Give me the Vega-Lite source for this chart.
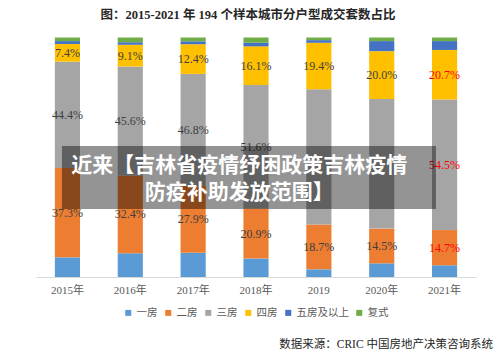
{
  "$schema": "https://vega.github.io/schema/vega-lite/v6.json",
  "width": 440,
  "height": 239.5,
  "autosize": "none",
  "padding": {"left": 36, "top": 37.5, "right": 24, "bottom": 78},
  "background": "white",
  "title": {
    "text": "图：2015-2021 年 194 个样本城市分户型成交套数占比",
    "font": "'Liberation Serif', 'Noto Sans CJK SC'",
    "fontSize": 12.5,
    "fontWeight": "bold",
    "color": "#262626",
    "anchor": "middle",
    "dx": -8,
    "offset": 16
  },
  "config": {
    "view": {"stroke": null},
    "legend": {"layout": {"bottom": {"anchor": "middle"}}}
  },
  "data": {
    "values": [
      {"year": "2015年", "type": "一房", "k": 1, "v": 8.2},
      {"year": "2015年", "type": "二房", "k": 2, "v": 37.3},
      {"year": "2015年", "type": "三房", "k": 3, "v": 44.4},
      {"year": "2015年", "type": "四房", "k": 4, "v": 7.4},
      {"year": "2015年", "type": "五房及以上", "k": 5, "v": 1.2},
      {"year": "2015年", "type": "复式", "k": 6, "v": 1.5},
      {"year": "2016年", "type": "一房", "k": 1, "v": 9.9},
      {"year": "2016年", "type": "二房", "k": 2, "v": 32.4},
      {"year": "2016年", "type": "三房", "k": 3, "v": 45.6},
      {"year": "2016年", "type": "四房", "k": 4, "v": 9.1},
      {"year": "2016年", "type": "五房及以上", "k": 5, "v": 1.0},
      {"year": "2016年", "type": "复式", "k": 6, "v": 2.0},
      {"year": "2017年", "type": "一房", "k": 1, "v": 10.1},
      {"year": "2017年", "type": "二房", "k": 2, "v": 27.9},
      {"year": "2017年", "type": "三房", "k": 3, "v": 46.8},
      {"year": "2017年", "type": "四房", "k": 4, "v": 12.4},
      {"year": "2017年", "type": "五房及以上", "k": 5, "v": 1.2},
      {"year": "2017年", "type": "复式", "k": 6, "v": 1.6},
      {"year": "2018年", "type": "一房", "k": 1, "v": 7.7},
      {"year": "2018年", "type": "二房", "k": 2, "v": 20.9},
      {"year": "2018年", "type": "三房", "k": 3, "v": 51.6},
      {"year": "2018年", "type": "四房", "k": 4, "v": 16.1},
      {"year": "2018年", "type": "五房及以上", "k": 5, "v": 1.5},
      {"year": "2018年", "type": "复式", "k": 6, "v": 2.2},
      {"year": "2019", "type": "一房", "k": 1, "v": 3.2},
      {"year": "2019", "type": "二房", "k": 2, "v": 18.7},
      {"year": "2019", "type": "三房", "k": 3, "v": 56.5},
      {"year": "2019", "type": "四房", "k": 4, "v": 19.4},
      {"year": "2019", "type": "五房及以上", "k": 5, "v": 1.1},
      {"year": "2019", "type": "复式", "k": 6, "v": 1.1},
      {"year": "2020年", "type": "一房", "k": 1, "v": 5.7},
      {"year": "2020年", "type": "二房", "k": 2, "v": 14.5},
      {"year": "2020年", "type": "三房", "k": 3, "v": 54.1},
      {"year": "2020年", "type": "四房", "k": 4, "v": 20.0},
      {"year": "2020年", "type": "五房及以上", "k": 5, "v": 4.2},
      {"year": "2020年", "type": "复式", "k": 6, "v": 1.5},
      {"year": "2021年", "type": "一房", "k": 1, "v": 4.9},
      {"year": "2021年", "type": "二房", "k": 2, "v": 14.7},
      {"year": "2021年", "type": "三房", "k": 3, "v": 54.5},
      {"year": "2021年", "type": "四房", "k": 4, "v": 20.7},
      {"year": "2021年", "type": "五房及以上", "k": 5, "v": 3.7},
      {"year": "2021年", "type": "复式", "k": 6, "v": 1.5}
    ]
  },
  "layer": [
    {
      "transform": [
        {"stack": "v", "groupby": ["year"], "sort": [{"field": "k", "order": "ascending"}], "as": ["v0", "v1"]}
      ],
      "mark": {"type": "bar"},
      "encoding": {
        "x": {
          "field": "year",
          "type": "nominal",
          "sort": null,
          "scale": {"paddingInner": 0.6, "paddingOuter": 0.3},
          "axis": {
            "title": null,
            "labelAngle": 0,
            "labelFont": "'Liberation Serif', 'Noto Sans CJK SC'",
            "labelFontSize": 11,
            "labelColor": "#595959",
            "labelPadding": 7,
            "ticks": false,
            "domainColor": "#D9D9D9",
            "domainWidth": 1.2
          }
        },
        "y": {
          "field": "v0",
          "type": "quantitative",
          "scale": {"domain": [0, 100], "nice": false},
          "axis": {
            "title": null,
            "values": [0, 10, 20, 30, 40, 50, 60, 70, 80, 90, 100],
            "labelExpr": "datum.value + '%'",
            "labelFont": "'Liberation Serif'",
            "labelFontSize": 10.5,
            "labelColor": "#595959",
            "labelPadding": 6,
            "ticks": false,
            "domain": false,
            "grid": false
          }
        },
        "y2": {"field": "v1"},
        "color": {
          "field": "type",
          "type": "nominal",
          "scale": {
            "domain": ["一房", "二房", "三房", "四房", "五房及以上", "复式"],
            "range": ["#5B9BD5", "#ED7D31", "#A5A5A5", "#FFC000", "#4472C4", "#70AD47"]
          },
          "legend": {
            "orient": "bottom",
            "direction": "horizontal",
            "title": null,
            "symbolType": "square",
            "symbolSize": 36,
            "symbolStrokeWidth": 0,
            "labelFont": "'Liberation Serif', 'Noto Sans CJK SC'",
            "labelFontSize": 10.5,
            "labelColor": "#595959",
            "columnPadding": 5,
            "labelOffset": 3,
            "offset": 12
          }
        }
      }
    },
    {
      "transform": [
        {"stack": "v", "groupby": ["year"], "sort": [{"field": "k", "order": "ascending"}], "as": ["v0", "v1"]},
        {"filter": "datum.k >= 2 && datum.k <= 4 && !(datum.k == 3 && (datum.year == '2019' || datum.year == '2020年'))"},
        {"calculate": "(datum.v0 + datum.v1) / 2", "as": "mid"},
        {"calculate": "format(datum.v, '.1f') + '%'", "as": "lbl"}
      ],
      "mark": {"type": "text", "font": "'Liberation Serif'", "fontSize": 12, "baseline": "middle"},
      "encoding": {
        "x": {"field": "year", "type": "nominal", "sort": null, "scale": {"paddingInner": 0.6, "paddingOuter": 0.3}, "axis": null},
        "y": {"field": "mid", "type": "quantitative", "scale": {"domain": [0, 100], "nice": false}, "axis": null},
        "text": {"field": "lbl"},
        "color": {"condition": {"test": "datum.year === '2021年'", "value": "#FF0000"}, "value": "#404040"}
      }
    },
    {
      "data": {"values": [{"x0": 0.059, "x1": 0.909, "y0": 28.4, "y1": 54.7}]},
      "mark": {"type": "rect", "color": "#000000", "opacity": 0.42},
      "encoding": {
        "x": {"field": "x0", "type": "quantitative", "scale": {"domain": [0, 1], "nice": false, "zero": false}, "axis": null},
        "x2": {"field": "x1"},
        "y": {"field": "y0", "type": "quantitative", "scale": {"domain": [0, 100], "nice": false}, "axis": null},
        "y2": {"field": "y1"}
      }
    },
    {
      "data": {"values": [
        {"x": 0.462, "y": 46.5, "t": "近来【吉林省疫情纾困政策吉林疫情\n防疫补助发放范围】"}
      ]},
      "mark": {"type": "text", "font": "'Noto Sans CJK SC'", "fontSize": 21, "fontWeight": "bold", "color": "#FFFFFF", "lineBreak": "\n", "lineHeight": 27, "align": "center", "baseline": "middle"},
      "encoding": {
        "x": {"field": "x", "type": "quantitative", "scale": {"domain": [0, 1], "nice": false, "zero": false}, "axis": null},
        "y": {"field": "y", "type": "quantitative", "scale": {"domain": [0, 100], "nice": false}, "axis": null},
        "text": {"field": "t"}
      }
    },
    {
      "data": {"values": [
        {"x": 1.0386, "y": -28.6, "t": "数据来源：CRIC 中国房地产决策咨询系统"}
      ]},
      "mark": {"type": "text", "font": "'Liberation Serif', 'Noto Sans CJK SC'", "fontSize": 11.5, "color": "#262626", "align": "right", "baseline": "middle"},
      "encoding": {
        "x": {"field": "x", "type": "quantitative", "scale": {"domain": [0, 1], "nice": false, "zero": false}, "axis": null},
        "y": {"field": "y", "type": "quantitative", "scale": {"domain": [0, 100], "nice": false}, "axis": null},
        "text": {"field": "t"}
      }
    }
  ],
  "resolve": {"scale": {"x": "independent"}}
}
